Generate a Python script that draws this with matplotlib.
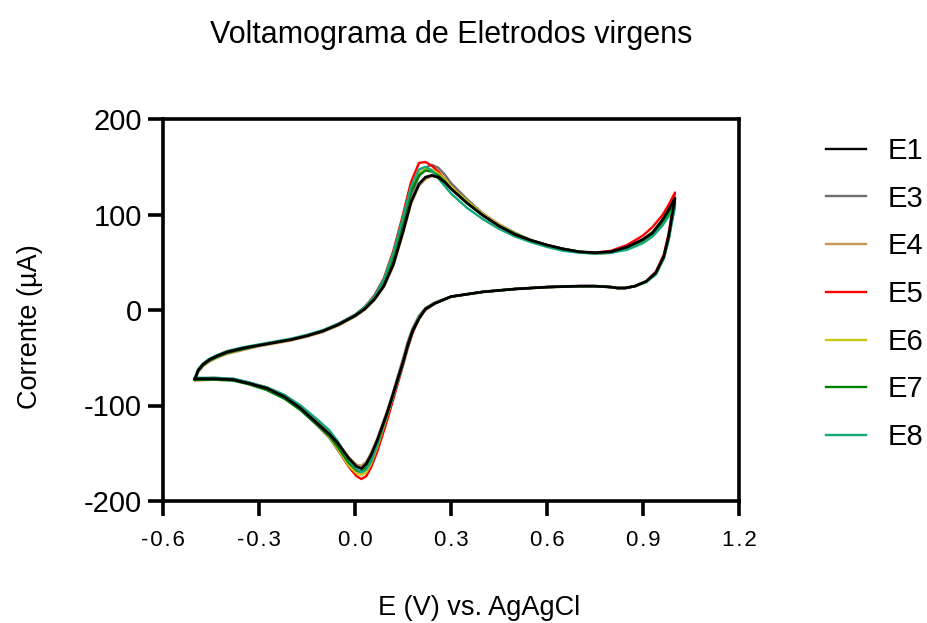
import matplotlib
matplotlib.use("Agg")
import matplotlib.pyplot as plt

plt.rcParams['font.family'] = ['Liberation Sans', 'DejaVu Sans']

# Potential grid (V vs AgAgCl): forward (anodic) and reverse (cathodic) branches
E_fwd = [-0.5, -0.49, -0.475, -0.455, -0.43, -0.4, -0.35, -0.3, -0.25, -0.2, -0.15, -0.1, -0.05,
         0.0, 0.03, 0.06, 0.09, 0.12, 0.15, 0.175, 0.2, 0.22, 0.24, 0.26, 0.28, 0.3, 0.35, 0.4,
         0.45, 0.5, 0.55, 0.6, 0.65, 0.7, 0.75, 0.8, 0.85, 0.9, 0.93, 0.96, 0.98, 1.0]
E_rev = [1.0, 0.99, 0.98, 0.965, 0.94, 0.91, 0.875, 0.845, 0.82, 0.8, 0.75, 0.7, 0.6, 0.5, 0.4,
         0.3, 0.25, 0.22, 0.2, 0.18, 0.165, 0.15, 0.133, 0.12, 0.1, 0.085, 0.07, 0.05, 0.035,
         0.02, 0.005, -0.02, -0.055, -0.08, -0.12, -0.17, -0.22, -0.275, -0.33, -0.38, -0.44, -0.5]

# Currents (uA)
E1_fwd = [-72, -63, -57, -52, -48, -44, -40, -37, -34, -31, -27, -22, -15, -6, 1, 11, 25, 48, 82,
          113, 132, 139, 141, 139, 134, 127, 112, 99, 88, 79, 73, 68, 64, 61, 60, 61, 66, 74, 81,
          94, 105, 117]
E1_rev = [117, 97, 77, 56, 39, 30, 25, 23, 23, 24, 25, 25, 24, 22, 19, 14, 7, 1, -9, -22, -37,
          -55, -73, -87, -108, -122, -136, -152, -161, -166, -164, -155, -139, -130, -118, -103,
          -91, -82, -77, -73, -72, -72]

E3_fwd = [-72, -63, -57, -52, -48, -44, -40, -37, -34, -31, -27, -22, -15, -6, 1, 12, 27, 52, 88,
          120, 140, 149, 152, 149, 142, 133, 116, 101, 89, 80, 73, 68, 64, 61, 59, 60, 65, 73, 80,
          92, 102, 112]
E3_rev = [112, 94, 75, 55, 38, 30, 25, 23, 23, 24, 25, 25, 24, 22, 19, 14, 8, 2, -6, -19, -33,
          -51, -70, -85, -108, -125, -141, -158, -167, -170, -169, -163, -146, -134, -120, -104,
          -91, -82, -76, -72, -71, -72]

E4_fwd = [-73, -65, -59, -54, -50, -46, -42, -38, -35, -32, -28, -23, -16, -7, 0, 10, 24, 46, 80,
          111, 130, 137, 140, 139, 135, 128, 114, 101, 90, 81, 73, 68, 64, 61, 59, 60, 64, 72, 79,
          90, 100, 110]
E4_rev = [110, 93, 74, 54, 38, 30, 25, 23, 23, 24, 25, 25, 24, 22, 19, 14, 7, 1, -8, -22, -37,
          -54, -72, -86, -106, -120, -134, -150, -159, -163, -162, -154, -138, -128, -116, -101,
          -89, -81, -76, -73, -73, -74]

E5_fwd = [-72, -63, -57, -52, -48, -44, -40, -37, -34, -31, -27, -22, -14, -5, 3, 15, 33, 62, 100,
          134, 154, 155, 151, 145, 137, 129, 113, 99, 88, 79, 73, 68, 64, 61, 60, 62, 68, 78, 87,
          99, 110, 123]
E5_rev = [123, 102, 80, 58, 40, 30, 25, 23, 23, 24, 25, 25, 24, 22, 19, 14, 7, 0, -9, -24, -40,
          -58, -78, -93, -116, -132, -148, -165, -174, -177, -174, -164, -145, -132, -119, -104,
          -92, -83, -77, -73, -72, -72]

E6_fwd = [-72, -63, -57, -52, -48, -44, -40, -37, -34, -31, -27, -22, -15, -6, 2, 13, 30, 57, 94,
          126, 143, 148, 147, 143, 137, 129, 114, 100, 89, 80, 73, 68, 64, 61, 59, 60, 65, 74, 82,
          94, 104, 115]
E6_rev = [115, 96, 76, 55, 38, 30, 25, 23, 23, 24, 25, 25, 24, 22, 19, 14, 7, 1, -8, -22, -38,
          -56, -75, -89, -111, -127, -143, -161, -170, -173, -171, -163, -145, -133, -119, -104,
          -91, -82, -77, -73, -72, -72]

E7_fwd = [-73, -64, -58, -53, -49, -45, -41, -37, -34, -31, -27, -22, -15, -6, 2, 13, 30, 56, 92,
          124, 141, 146, 145, 141, 135, 127, 112, 99, 88, 80, 73, 68, 64, 61, 60, 61, 65, 73, 80,
          91, 101, 112]
E7_rev = [112, 94, 75, 55, 38, 30, 25, 23, 23, 24, 25, 25, 24, 22, 19, 14, 7, 1, -8, -22, -37,
          -55, -74, -88, -109, -124, -140, -157, -165, -169, -168, -160, -143, -132, -120, -105,
          -93, -84, -78, -74, -73, -73]

E8_fwd = [-71, -62, -56, -51, -47, -43, -39, -36, -33, -30, -26, -21, -14, -5, 3, 14, 32, 60, 97,
          129, 147, 150, 146, 138, 130, 122, 107, 95, 85, 77, 71, 66, 62, 60, 59, 60, 63, 70, 77,
          88, 98, 108]
E8_rev = [108, 91, 73, 54, 37, 29, 25, 23, 23, 24, 25, 25, 24, 22, 19, 14, 7, 1, -8, -22, -38,
          -56, -75, -89, -110, -125, -141, -159, -167, -170, -167, -157, -137, -126, -114, -100,
          -89, -81, -76, -72, -71, -71]

labels = ["E1", "E3", "E4", "E5", "E6", "E7", "E8"]
colors = ["#000000", "#6E6E6E", "#C8965A", "#FF0000", "#C8C814", "#008000", "#14A87A"]
fwd = [E1_fwd, E3_fwd, E4_fwd, E5_fwd, E6_fwd, E7_fwd, E8_fwd]
rev = [E1_rev, E3_rev, E4_rev, E5_rev, E6_rev, E7_rev, E8_rev]

xticks = [-0.6, -0.3, 0.0, 0.3, 0.6, 0.9, 1.2]
yticks = [-200, -100, 0, 100, 200]

fig = plt.figure(figsize=(9.28, 6.23), dpi=100)
ax = fig.add_axes([163/928, 1-501/623, (739-163)/928, (501-119)/623])

handles = []
for i in range(len(labels)):
    x = E_fwd + E_rev
    y = fwd[i] + rev[i]
    z = 10 if i == 0 else 3 + i * 0.1
    lw = 2.0 if i == 0 else 1.7
    h, = ax.plot(x, y, color=colors[i], lw=lw, zorder=z, solid_joinstyle='round')
    handles.append(h)

HS = "\u200a"
ax.set_xlim(-0.6, 1.2)
ax.set_ylim(-200, 200)
ax.set_xticks(xticks)
ax.set_xticklabels([HS.join(f"{t:.1f}") for t in xticks], fontsize=16)
ax.set_yticks(yticks)
ax.set_yticklabels([str(t) for t in yticks], fontsize=21)
for s in ax.spines.values():
    s.set_linewidth(2.6)
ax.tick_params(axis='both', direction='out', length=11, width=2.6, colors='black')
ax.tick_params(axis='x', pad=10)
ax.tick_params(axis='y', pad=4)

fig.text(451/928, 1-35/623, "Voltamograma de Eletrodos virgens", ha='center', va='center', fontsize=22)
fig.text(479/928, 1-608/623, "E (V) vs. AgAgCl", ha='center', va='center', fontsize=19.5)
fig.text(30/928, 1-327/623, "Corrente (µA)", ha='center', va='center', rotation=90, fontsize=19.5)

leg = fig.legend(handles, labels, loc='upper left', bbox_to_anchor=(826/928, 1-137/623),
                 frameon=False, fontsize=21, handlelength=1.37, handletextpad=0.75,
                 labelspacing=0.675, borderaxespad=0, borderpad=0)
for lh in leg.get_lines():
    lh.set_linewidth(1.7)

fig.savefig("out.png", dpi=100)
